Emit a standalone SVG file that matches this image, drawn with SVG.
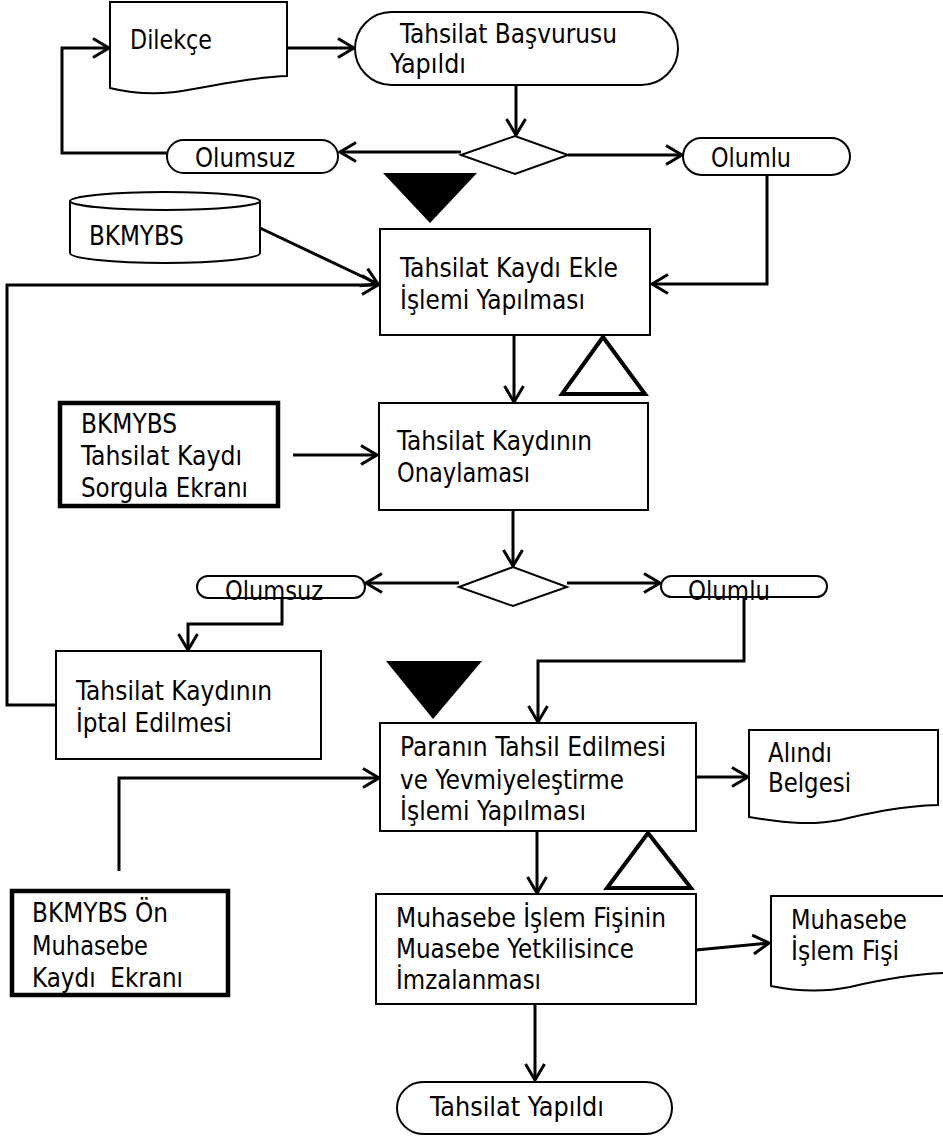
<svg xmlns="http://www.w3.org/2000/svg" width="943" height="1143" viewBox="0 0 943 1143">
<defs>
<style>
.s{fill:#fff;stroke:#000;stroke-width:2}
.k{fill:#fff;stroke:#000;stroke-width:4.5}
.c{fill:none;stroke:#000;stroke-width:3}
.o{fill:none;stroke:#000;stroke-width:4}
.t{font-family:"DejaVu Sans Condensed","DejaVu Sans",sans-serif;font-size:27px;fill:#000}
</style>
<marker id="a" markerUnits="userSpaceOnUse" markerWidth="24" markerHeight="24" refX="16" refY="10" orient="auto" overflow="visible">
<path d="M0,0.5 L16,10 L0,19.5" fill="none" stroke="#000" stroke-width="3"/>
</marker>
</defs>
<rect width="943" height="1143" fill="#fff"/>
<g id="connectors">
<path class="c" d="M287,48 H354" marker-end="url(#a)"/>
<path class="c" d="M516,85 V135" marker-end="url(#a)"/>
<path class="c" d="M461,152 H340" marker-end="url(#a)"/>
<path class="c" d="M568,155 H682" marker-end="url(#a)"/>
<path class="c" d="M167,153 H62 V48 H109" marker-end="url(#a)"/>
<path class="c" d="M260,228 L378,284" marker-end="url(#a)"/>
<path class="c" d="M767,175 V284 H652" marker-end="url(#a)"/>
<path class="c" d="M56,705 H7 V285 H378" marker-end="url(#a)"/>
<path class="c" d="M514,335 V402" marker-end="url(#a)"/>
<path class="c" d="M293,455 H377" marker-end="url(#a)"/>
<path class="c" d="M513,510 V566" marker-end="url(#a)"/>
<path class="c" d="M459,583 H366" marker-end="url(#a)"/>
<path class="c" d="M567,583 H660" marker-end="url(#a)"/>
<path class="c" d="M282,598 V624 H188 V650" marker-end="url(#a)"/>
<path class="c" d="M744,597 V661 H538 V722" marker-end="url(#a)"/>
<path class="c" d="M119,871 V778 H379" marker-end="url(#a)"/>
<path class="c" d="M696,777 H748" marker-end="url(#a)"/>
<path class="c" d="M537,831 V893" marker-end="url(#a)"/>
<path class="c" d="M696,950 L769,943" marker-end="url(#a)"/>
<path class="c" d="M535,1004 V1080" marker-end="url(#a)"/>
</g>
<g id="dilekce">
<path class="s" d="M110,2 H287 V76 C250,77 215,86 175,92 C150,95 130,93 110,88 Z"/>
<text class="t" x="130" y="49" textLength="82" lengthAdjust="spacingAndGlyphs">Dilekçe</text>
</g>
<g id="basvuru">
<rect class="s" x="355" y="12" width="323" height="73" rx="36.5"/>
<text class="t" x="400" y="43" textLength="217" lengthAdjust="spacingAndGlyphs">Tahsilat Başvurusu</text>
<text class="t" x="390" y="73" textLength="76" lengthAdjust="spacingAndGlyphs">Yapıldı</text>
</g>
<g id="karar1">
<path class="s" d="M461,155 L515,136 L568,155 L515,174 Z"/>
</g>
<g id="olumsuz1">
<rect class="s" x="167" y="140" width="171" height="33" rx="16.5"/>
<text class="t" x="195" y="167" textLength="100" lengthAdjust="spacingAndGlyphs">Olumsuz</text>
</g>
<g id="olumlu1">
<rect class="s" x="683" y="138" width="167" height="37" rx="18.5"/>
<text class="t" x="711" y="167" textLength="80" lengthAdjust="spacingAndGlyphs">Olumlu</text>
</g>
<g id="ucgen1">
<path d="M383,173 H477 L430,223 Z" fill="#000"/>
</g>
<g id="bkmybs-db">
<path class="s" d="M70,201 A95,9 0 0 1 260,201 V253 A95,10 0 0 1 70,253 Z"/>
<path fill="none" stroke="#000" stroke-width="2" d="M70,201 A95,9 0 0 0 260,201"/>
<text class="t" x="89" y="245" textLength="95" lengthAdjust="spacingAndGlyphs">BKMYBS</text>
</g>
<g id="kayit-ekle">
<rect class="s" x="380" y="229" width="270" height="106"/>
<text class="t" x="400" y="277" textLength="218" lengthAdjust="spacingAndGlyphs">Tahsilat Kaydı Ekle</text>
<text class="t" x="400" y="309" textLength="185" lengthAdjust="spacingAndGlyphs">İşlemi Yapılması</text>
</g>
<g id="ucgen2">
<path class="o" d="M603,337 L645,394 H562 Z"/>
</g>
<g id="sorgula-ekrani">
<rect class="k" x="60" y="403" width="218" height="103"/>
<text class="t" x="81" y="433" textLength="96" lengthAdjust="spacingAndGlyphs">BKMYBS</text>
<text class="t" x="81" y="465" textLength="161" lengthAdjust="spacingAndGlyphs">Tahsilat Kaydı</text>
<text class="t" x="81" y="497" textLength="167" lengthAdjust="spacingAndGlyphs">Sorgula Ekranı</text>
</g>
<g id="onay">
<rect class="s" x="379" y="403" width="269" height="107"/>
<text class="t" x="397" y="450" textLength="195" lengthAdjust="spacingAndGlyphs">Tahsilat Kaydının</text>
<text class="t" x="397" y="482" textLength="133" lengthAdjust="spacingAndGlyphs">Onaylaması</text>
</g>
<g id="karar2">
<path class="s" d="M459,587 L513,567 L567,587 L513,606 Z"/>
</g>
<g id="olumsuz2">
<rect class="s" x="197" y="576" width="168" height="22" rx="11"/>
<text class="t" x="225" y="600" textLength="98" lengthAdjust="spacingAndGlyphs">Olumsuz</text>
</g>
<g id="olumlu2">
<rect class="s" x="661" y="576" width="166" height="21" rx="10.5"/>
<text class="t" x="688" y="600" textLength="82" lengthAdjust="spacingAndGlyphs">Olumlu</text>
</g>
<g id="iptal">
<rect class="s" x="56" y="651" width="265" height="108"/>
<text class="t" x="76" y="700" textLength="196" lengthAdjust="spacingAndGlyphs">Tahsilat Kaydının</text>
<text class="t" x="76" y="732" textLength="156" lengthAdjust="spacingAndGlyphs">İptal Edilmesi</text>
</g>
<g id="ucgen3">
<path d="M386,661 H482 L433,719 Z" fill="#000"/>
</g>
<g id="tahsil">
<rect class="s" x="380" y="723" width="316" height="108"/>
<text class="t" x="400" y="756" textLength="266" lengthAdjust="spacingAndGlyphs">Paranın Tahsil Edilmesi</text>
<text class="t" x="400" y="789" textLength="224" lengthAdjust="spacingAndGlyphs">ve Yevmiyeleştirme</text>
<text class="t" x="400" y="820" textLength="186" lengthAdjust="spacingAndGlyphs">İşlemi Yapılması</text>
</g>
<g id="alindi">
<path class="s" d="M749,730 H938 V805 C900,806 870,813 840,820 C815,825 790,824 749,817 Z"/>
<text class="t" x="768" y="762" textLength="64" lengthAdjust="spacingAndGlyphs">Alındı</text>
<text class="t" x="768" y="792" textLength="83" lengthAdjust="spacingAndGlyphs">Belgesi</text>
</g>
<g id="on-muhasebe">
<rect class="k" x="12" y="891" width="216" height="104"/>
<text class="t" x="32" y="922" textLength="136" lengthAdjust="spacingAndGlyphs">BKMYBS Ön</text>
<text class="t" x="32" y="955" textLength="116" lengthAdjust="spacingAndGlyphs">Muhasebe</text>
<text class="t" x="32" y="987" textLength="151" lengthAdjust="spacingAndGlyphs" xml:space="preserve">Kaydı  Ekranı</text>
</g>
<g id="ucgen4">
<path class="o" d="M648,833 L691,888 H607 Z"/>
</g>
<g id="imza">
<rect class="s" x="376" y="894" width="320" height="110"/>
<text class="t" x="396" y="927" textLength="270" lengthAdjust="spacingAndGlyphs">Muhasebe İşlem Fişinin</text>
<text class="t" x="396" y="958" textLength="238" lengthAdjust="spacingAndGlyphs">Muasebe Yetkilisince</text>
<text class="t" x="396" y="989" textLength="145" lengthAdjust="spacingAndGlyphs">İmzalanması</text>
</g>
<g id="fis">
<path class="s" d="M771,896 H946 V973 C910,974 880,980 850,987 C825,992 800,992 771,986 Z"/>
<text class="t" x="791" y="929" textLength="116" lengthAdjust="spacingAndGlyphs">Muhasebe</text>
<text class="t" x="791" y="960" textLength="108" lengthAdjust="spacingAndGlyphs">İşlem Fişi</text>
</g>
<g id="son">
<rect class="s" x="397" y="1082" width="275" height="52" rx="26"/>
<text class="t" x="430" y="1116" textLength="174" lengthAdjust="spacingAndGlyphs">Tahsilat Yapıldı</text>
</g>
</svg>
